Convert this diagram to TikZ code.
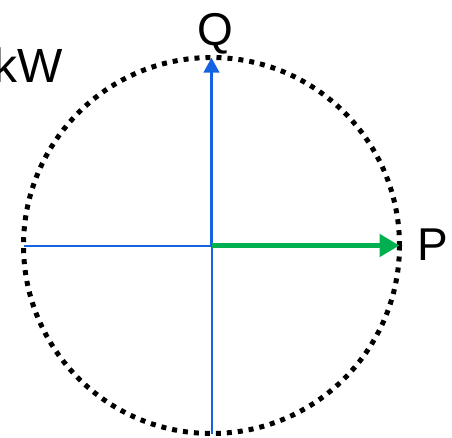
\documentclass[tikz,border=0pt]{standalone}
\usepackage{fontspec}
\setmainfont{Liberation Sans}
\usetikzlibrary{arrows.meta}
\definecolor{axisblue}{RGB}{20,100,225}
\definecolor{pgreen}{RGB}{0,176,80}

\begin{document}
\begin{tikzpicture}[x=1pt, y=-1pt, >={Triangle[length=15pt, width=15pt]},
    lbl/.style={inner sep=0pt, font=\fontsize{46}{50}\selectfont}]

    \useasboundingbox (0,0) rectangle (452,437);

    \coordinate (O) at (211.5, 245.5);
    \coordinate (T) at (211.5, 57.5);  % top of circle
    \coordinate (B) at (211.5, 433.5); % bottom
    \coordinate (L) at (23.5, 245.5);  % left
    \coordinate (R) at (399.5, 245.5); % right

    % dotted circle
    \draw[line width=5pt, dash pattern=on 5pt off 6pt] (O) circle[radius=188];

    % thin axes
    \draw[line width=2pt, axisblue] (L) -- (O);
    \draw[line width=2pt, axisblue] (O) -- (B);

    % Q arrow
    \draw[->, line width=3.6pt, axisblue] (O) -- (T);

    % P arrow
    \draw[-{Triangle[length=20pt, width=22pt]}, line width=5.5pt, pgreen] (O) -- (R);

    % labels
    \node[lbl, anchor=base] (q) at (215, 45) {Q};
    \node[lbl, anchor=base west] (p) at (417, 260) {P};
    \node[lbl, font=\fontsize{48}{52}\selectfont, anchor=base east] (kw) at (63, 82) {kW};

\end{tikzpicture}
\end{document}
